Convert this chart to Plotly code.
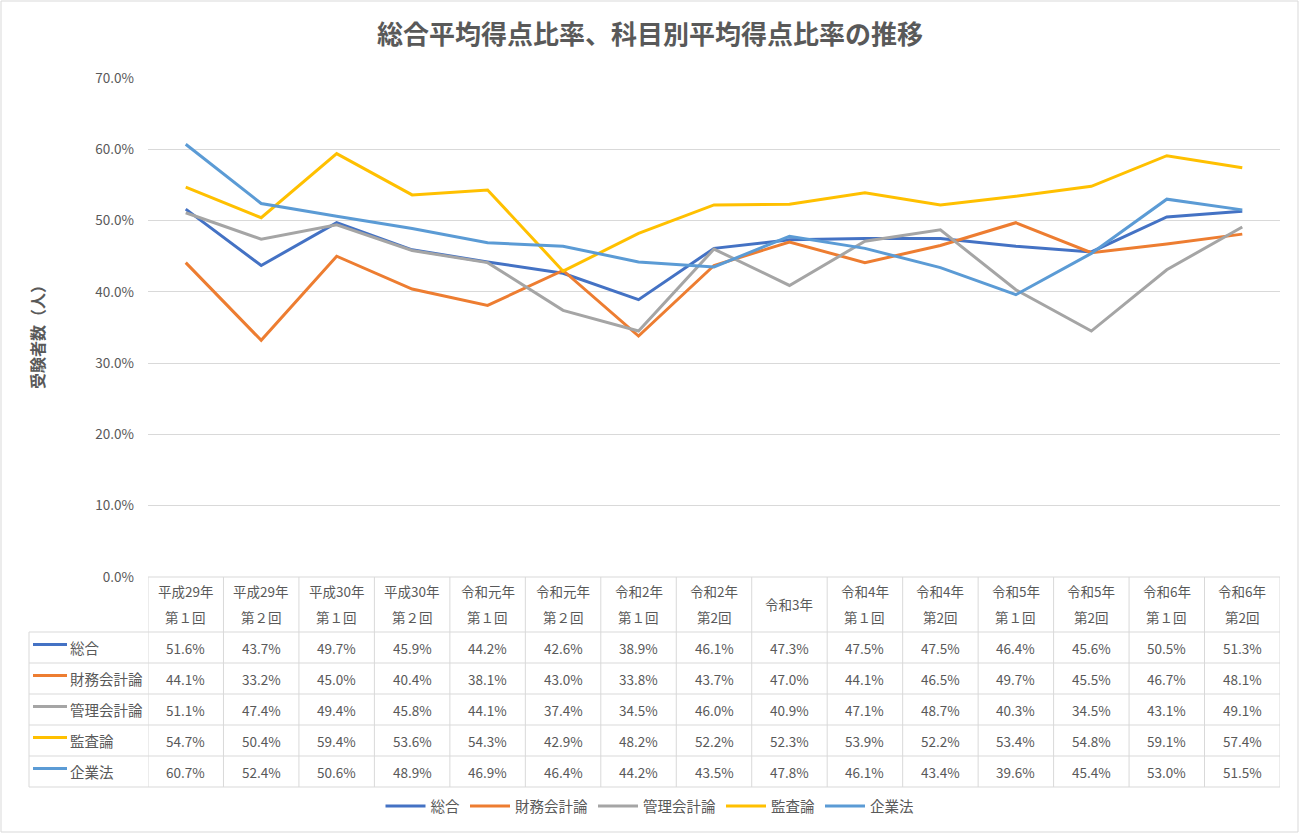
import plotly.graph_objects as go

W, H = 1300, 833

cat_line1 = ["平成29年", "平成29年", "平成30年", "平成30年", "令和元年", "令和元年", "令和2年", "令和2年",
             "令和3年", "令和4年", "令和4年", "令和5年", "令和5年", "令和6年", "令和6年"]
cat_line2 = ["第１回", "第２回", "第１回", "第２回", "第１回", "第２回", "第１回", "第2回",
             "", "第１回", "第2回", "第１回", "第2回", "第１回", "第2回"]
categories = [(a + " " + b).strip() for a, b in zip(cat_line1, cat_line2)]

sogo = [51.6, 43.7, 49.7, 45.9, 44.2, 42.6, 38.9, 46.1, 47.3, 47.5, 47.5, 46.4, 45.6, 50.5, 51.3]
zaimu = [44.1, 33.2, 45.0, 40.4, 38.1, 43.0, 33.8, 43.7, 47.0, 44.1, 46.5, 49.7, 45.5, 46.7, 48.1]
kanri = [51.1, 47.4, 49.4, 45.8, 44.1, 37.4, 34.5, 46.0, 40.9, 47.1, 48.7, 40.3, 34.5, 43.1, 49.1]
kansa = [54.7, 50.4, 59.4, 53.6, 54.3, 42.9, 48.2, 52.2, 52.3, 53.9, 52.2, 53.4, 54.8, 59.1, 57.4]
kigyo = [60.7, 52.4, 50.6, 48.9, 46.9, 46.4, 44.2, 43.5, 47.8, 46.1, 43.4, 39.6, 45.4, 53.0, 51.5]

series_names = ["総合", "財務会計論", "管理会計論", "監査論", "企業法"]
series_values = [sogo, zaimu, kanri, kansa, kigyo]
series_colors = ["#4472C4", "#ED7D31", "#A5A5A5", "#FFC000", "#5B9BD5"]

FONT = "Noto Sans CJK JP"
TXT = "#595959"
GRID = "#D9D9D9"
TS = 13.5

def py(px):
    return 1 - px / H

def pxx(px):
    return px / W

fig = go.Figure()
for name, vals, col in zip(series_names, series_values, series_colors):
    fig.add_trace(go.Scatter(x=categories, y=vals, name=name, mode="lines",
                             line=dict(color=col, width=3)))

x_left, x_right = 148, 1280
y_top, y_bot = 78, 577
header_bot = 632
row_h = 31
n = len(categories)

shapes = []
shapes.append(dict(type="line", xref="x", yref="paper", x0=-0.5, x1=n - 0.5,
                   y0=py(y_bot), y1=py(y_bot), line=dict(color=GRID, width=1)))
for r in range(len(series_names) + 1):
    yy = header_bot + r * row_h
    shapes.append(dict(type="line", xref="paper", yref="paper", x0=pxx(29), x1=pxx(x_right),
                       y0=py(yy), y1=py(yy), line=dict(color=GRID, width=1)))
for i in range(n + 1):
    shapes.append(dict(type="line", xref="x", yref="paper", x0=i - 0.5, x1=i - 0.5,
                       y0=py(y_bot), y1=py(header_bot + len(series_names) * row_h),
                       line=dict(color=GRID, width=1)))
shapes.append(dict(type="line", xref="paper", yref="paper", x0=pxx(29), x1=pxx(29),
                   y0=py(header_bot), y1=py(header_bot + len(series_names) * row_h),
                   line=dict(color=GRID, width=1)))
shapes.append(dict(type="rect", xref="paper", yref="paper", x0=pxx(1), x1=pxx(W - 2),
                   y0=py(H - 1), y1=py(1), line=dict(color=GRID, width=1)))

annotations = []
for i in range(n):
    if cat_line2[i]:
        annotations.append(dict(xref="x", yref="paper", x=i, y=py(591), text=cat_line1[i],
                                yanchor="middle", showarrow=False,
                                font=dict(size=TS, color=TXT, family=FONT)))
        annotations.append(dict(xref="x", yref="paper", x=i, y=py(617), text=cat_line2[i],
                                yanchor="middle", showarrow=False,
                                font=dict(size=TS, color=TXT, family=FONT)))
    else:
        annotations.append(dict(xref="x", yref="paper", x=i, y=py(604), text=cat_line1[i],
                                yanchor="middle", showarrow=False,
                                font=dict(size=TS, color=TXT, family=FONT)))
for r, (name, vals, col) in enumerate(zip(series_names, series_values, series_colors)):
    yc = header_bot + r * row_h + row_h / 2
    shapes.append(dict(type="line", xref="paper", yref="paper", x0=pxx(33), x1=pxx(67),
                       y0=py(yc - 3), y1=py(yc - 3), line=dict(color=col, width=3)))
    annotations.append(dict(xref="paper", yref="paper", x=pxx(68), y=py(yc), text=name,
                            xanchor="left", yanchor="middle", showarrow=False,
                            font=dict(size=14.5, color=TXT, family=FONT)))
    for i, v in enumerate(vals):
        annotations.append(dict(xref="x", yref="paper", x=i, y=py(yc), text=f"{v:.1f}%",
                                yanchor="middle", showarrow=False,
                                font=dict(size=TS, color=TXT, family=FONT)))

annotations.append(dict(xref="paper", yref="paper", x=pxx(37), y=py(333), text="受験者数（人）",
                        xanchor="center", yanchor="middle", textangle=-90, showarrow=False,
                        font=dict(size=16, color=TXT, family=FONT, weight="bold")))

fig.update_layout(
    width=W, height=H,
    margin=dict(l=0, r=0, t=0, b=0, autoexpand=False),
    paper_bgcolor="white", plot_bgcolor="white",
    title=dict(text="<b>総合平均得点比率、科目別平均得点比率の推移</b>", x=0.5, xanchor="center",
               y=py(35), yanchor="middle", font=dict(size=26, color=TXT, family=FONT)),
    xaxis=dict(domain=[pxx(x_left), pxx(x_right)], range=[-0.5, n - 0.5], showticklabels=False,
               showgrid=False, zeroline=False, showline=False, ticks="", automargin=False),
    yaxis=dict(domain=[py(y_bot), py(y_top)], range=[0, 70], dtick=10, tickformat=".1f",
               ticksuffix="%", showgrid=True, gridcolor=GRID, gridwidth=1, zeroline=False,
               showline=False, ticks="", ticklabelstandoff=13, automargin=False,
               tickfont=dict(size=TS, color=TXT, family=FONT)),
    legend=dict(orientation="h", x=0.5, xanchor="center", y=py(806), yanchor="middle",
                font=dict(size=14.5, color=TXT, family=FONT), itemwidth=40, traceorder="normal"),
    shapes=shapes,
    annotations=annotations,
    showlegend=True,
)

fig.write_html("out.html", config={"displayModeBar": False},
               post_script="document.body.style.margin='0';")
